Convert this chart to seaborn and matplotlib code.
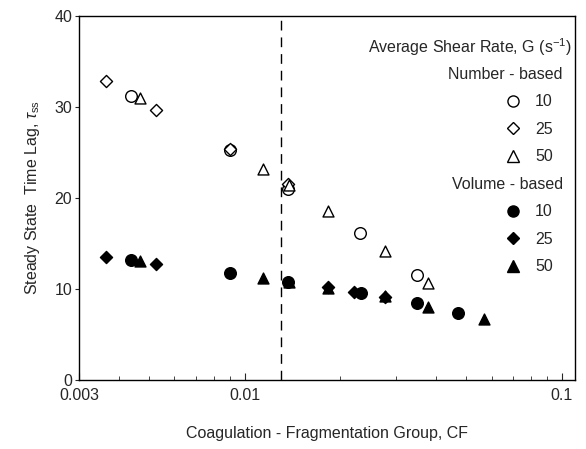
import pandas as pd
import matplotlib
matplotlib.use("Agg")
import matplotlib.pyplot as plt
from matplotlib.lines import Line2D
import seaborn as sns

# values
num_g10_cf = [0.00438, 0.00898, 0.01368, 0.0231, 0.0350]
num_g10_tau = [31.2, 25.3, 21.0, 16.2, 11.5]
num_g25_cf = [0.00365, 0.00525, 0.00898, 0.0137]
num_g25_tau = [32.9, 29.7, 25.4, 21.5]
num_g50_cf = [0.00467, 0.0114, 0.0138, 0.0183, 0.0277, 0.0378]
num_g50_tau = [31.0, 23.2, 21.4, 18.6, 14.2, 10.7]

vol_g10_cf = [0.00438, 0.00898, 0.0137, 0.0233, 0.0350, 0.0470]
vol_g10_tau = [13.2, 11.8, 10.8, 9.6, 8.5, 7.4]
vol_g25_cf = [0.00365, 0.00525, 0.0183, 0.0221, 0.0277]
vol_g25_tau = [13.5, 12.8, 10.2, 9.7, 9.1]
vol_g50_cf = [0.00467, 0.0114, 0.0138, 0.0183, 0.0277, 0.0378, 0.0569]
vol_g50_tau = [13.1, 11.2, 10.8, 10.1, 9.2, 8.0, 6.7]

cf_critical = 0.013

series = [
    ("Number", "10", num_g10_cf, num_g10_tau),
    ("Number", "25", num_g25_cf, num_g25_tau),
    ("Number", "50", num_g50_cf, num_g50_tau),
    ("Volume", "10", vol_g10_cf, vol_g10_tau),
    ("Volume", "25", vol_g25_cf, vol_g25_tau),
    ("Volume", "50", vol_g50_cf, vol_g50_tau),
]
rows = []
for basis, g, cf, tau in series:
    for c, t in zip(cf, tau):
        rows.append({"basis": basis, "G": g, "CF": c, "tau": t})
df = pd.DataFrame(rows)

markers = {"10": "o", "25": "D", "50": "^"}
sizes = {"10": 70, "25": 38, "50": 62}

sns.set_style("ticks")
plt.rcParams["font.family"] = ["Liberation Sans", "DejaVu Sans"]
plt.rcParams["mathtext.fontset"] = "custom"
plt.rcParams["mathtext.rm"] = "Liberation Sans"
plt.rcParams["mathtext.it"] = "Liberation Sans:italic"

FS = 11.5
fig = plt.figure(figsize=(5.86, 4.49), dpi=100)
# axes box: x 79..575 px, y 16..380 px
ax = fig.add_axes([79 / 586, 69 / 449, 496 / 586, 364 / 449])

handles = {}
for basis in ["Number", "Volume"]:
    for g in ["10", "25", "50"]:
        sub = df[(df.basis == basis) & (df.G == g)]
        face = "white" if basis == "Number" else "black"
        sns.scatterplot(data=sub, x="CF", y="tau", marker=markers[g], s=sizes[g],
                        facecolor=face, edgecolor="black", linewidth=1.0,
                        ax=ax, zorder=3)
        handles[(basis, g)] = Line2D([], [], ls="none", marker=markers[g],
                                     markersize=8 if g != "25" else 6,
                                     markerfacecolor=face, markeredgecolor="black")

ax.axvline(cf_critical, color="black", lw=1.0, ls=(0, (7, 5)))

ax.set_xscale("log")
ax.set_xlim(0.003, 0.11)
ax.set_ylim(0, 40)
ax.set_xticks([0.003, 0.01, 0.1])
ax.set_xticklabels(["0.003", "0.01", "0.1"])
ax.set_yticks([0, 10, 20, 30, 40])
ax.tick_params(axis="x", which="both", direction="in", labelsize=FS, pad=6)
ax.tick_params(axis="x", which="major", length=5)
ax.tick_params(axis="x", which="minor", length=3)
ax.tick_params(axis="y", direction="out", length=3, labelsize=FS, pad=2)
for sp in ax.spines.values():
    sp.set_visible(True)
    sp.set_linewidth(1.0)
    sp.set_color("black")

ax.set_xlabel("Coagulation - Fragmentation Group, CF", fontsize=FS, labelpad=16)
ax.set_ylabel("Steady State  Time Lag, $\\tau_{\\rm ss}$", fontsize=FS, labelpad=9)

blank = Line2D([], [], ls="none")
leg_handles = [blank, handles[("Number", "10")], handles[("Number", "25")],
               handles[("Number", "50")], blank, handles[("Volume", "10")],
               handles[("Volume", "25")], handles[("Volume", "50")]]
leg_labels = [" ", "10", "25", "50", " ", "10", "25", "50"]
leg = ax.legend(leg_handles, leg_labels, loc="upper right",
                bbox_to_anchor=((553 - 79) / 496, (380 - 67) / 364),
                frameon=False, fontsize=FS, labelspacing=0.78,
                handlelength=1.0, handletextpad=0.9,
                borderaxespad=0, borderpad=0)

# headers, right aligned like the reference
fig.canvas.draw()
inv = ax.transAxes.inverted()
texts = leg.get_texts()
y_num = inv.transform(texts[0].get_window_extent().get_points().mean(axis=0))[1]
y_vol = inv.transform(texts[4].get_window_extent().get_points().mean(axis=0))[1]
row = y_num - inv.transform(texts[1].get_window_extent().get_points().mean(axis=0))[1]
x_hdr = (563 - 79) / 496
x_ttl = (572 - 79) / 496
ax.text(x_ttl, y_num + row, "Average Shear Rate, G (s$^{-1}$)", transform=ax.transAxes,
        ha="right", va="center", fontsize=FS)
ax.text(x_hdr, y_num, "Number - based", transform=ax.transAxes,
        ha="right", va="center", fontsize=FS)
ax.text(x_hdr, y_vol, "Volume - based", transform=ax.transAxes,
        ha="right", va="center", fontsize=FS)

fig.savefig("out.png", dpi=100)
